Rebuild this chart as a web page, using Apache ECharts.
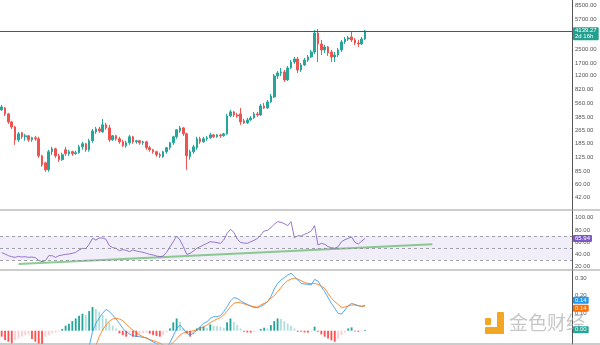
<!DOCTYPE html>
<html>
<head>
<meta charset="utf-8">
<script src="https://cdn.jsdelivr.net/npm/echarts@6/dist/echarts.min.js"></script>
<style>
  html, body { margin: 0; padding: 0; background: #ffffff; }
  #chart { width: 600px; height: 345px; }
</style>
</head>
<body>
<div id="chart"></div>
<script>
// Weekly candles: [open, close, low, high]
const candles = [
  [467,507,454,536],[493,418,395,507],[418,335,317,430],[335,292,276,345],[292,204,178,300],
  [204,241,193,254],[248,222,210,254],[222,228,199,241],[228,204,193,234],[204,216,193,222],
  [216,210,199,228],[210,131,124,222],[131,102,96.8,135],[108,89.1,84.3,111],[89.1,147,84.3,155],
  [147,159,135,168],[159,131,124,164],[131,118,111,139],[118,135,114,143],[155,139,131,168],
  [139,147,131,155],[147,139,131,151],[139,143,135,151],[143,168,139,178],[168,183,155,193],
  [183,155,147,188],[155,199,147,210],[199,261,188,276],[254,276,241,292],[276,261,248,292],
  [254,309,248,364],[309,284,269,326],[284,204,193,309],[204,228,199,234],[228,210,199,234],
  [210,193,183,222],[193,173,168,204],[173,188,164,199],[188,222,178,234],[222,193,183,228],
  [193,199,183,204],[199,188,178,204],[188,193,178,199],[193,164,155,199],[164,155,147,173],
  [155,147,139,159],[147,135,128,151],[135,131,124,143],[128,147,124,151],[147,164,139,168],
  [164,188,155,193],[188,222,178,228],[222,269,210,276],[261,284,248,300],[284,241,228,292],
  [241,131,89.1,248],[128,147,118,155],[147,168,139,178],[164,210,155,222],[210,193,183,222],
  [193,210,188,222],[210,216,199,228],[216,234,210,248],[234,222,216,241],[222,234,216,241],
  [234,228,216,241],[228,241,222,248],[241,395,234,418],[395,442,385,467],[442,406,385,454],
  [406,395,374,430],[418,335,309,493],[345,326,317,364],[326,354,317,374],[354,374,345,395],
  [374,418,364,442],[418,406,385,442],[406,521,395,551],[521,493,480,566],[493,582,480,615],
  [582,687,566,726],[668,1194,650,1262],[1194,1297,1099,1371],[1297,1334,1194,1490],[1334,1069,1012,1410],
  [1069,1490,1040,1574],[1490,1758,1449,1858],[1758,1910,1664,2019],[1910,1410,1297,2019],[1410,1618,1334,1710],
  [1618,1858,1574,1964],[1858,2019,1758,2134],[2019,2318,1964,2450],[2318,3919,2193,4258],[3919,2892,1758,4377],
  [2892,2450,2134,3230],[2450,2662,2255,2813],[2662,2255,2075,2736],[2318,2019,1758,2450],[2019,2134,1758,2318],
  [2134,2450,2019,2589],[2450,3056,2318,3230],[3056,3320,2892,3509],[3320,3413,3142,3607],[3509,3230,3056,4142],
  [3230,2973,2813,3413],[2973,2892,2662,3230],[2892,3320,2813,3509],[3320,4139.27,3230,4258]
];

// RSI(14)
const rsi = [
  42.5,40.2,37.5,35.8,34.7,36.4,35.3,35.8,34.7,35.3,
  34.2,29.8,27.6,29.3,37.5,37.5,34.7,37.5,38.6,39.7,
  40.2,41.4,43.0,46.9,49.6,49.0,56.2,66.0,63.3,66.6,
  66.6,64.4,53.9,50.7,49.6,45.7,47.4,46.3,44.1,46.9,
  45.2,44.1,43.0,41.4,39.7,38.6,37.0,35.8,37.0,43.0,
  51.8,60.5,69.9,63.3,52.3,39.7,41.4,45.2,49.6,52.3,
  55.1,57.8,60.5,59.9,58.9,57.8,63.3,74.3,80.9,75.9,
  64.9,59.4,58.3,57.8,60.5,62.7,66.0,71.5,78.1,79.2,
  83.6,89.1,93.5,92.4,90.2,86.9,93.5,67.1,70.4,69.9,
  72.6,74.8,78.1,86.9,55.1,57.8,56.2,52.3,50.7,49.6,
  52.3,60.5,63.8,66.0,68.2,59.4,56.7,61.6,65.94
];

// MACD line, signal line and histogram
const macdLine = [
  null,null,null,null,null,null,null,null,null,null,
  null,null,null,null,null,null,null,null,null,null,
  null,null,null,null,null,-0.10,-0.09,-0.006,0.042,0.074,
  0.099,0.122,0.109,0.090,0.067,0.042,0.013,-0.006,-0.019,-0.029,
  -0.032,-0.034,-0.038,-0.040,-0.053,-0.063,-0.074,-0.086,-0.093,-0.091,
  -0.069,-0.029,0.013,0.032,0.010,-0.015,-0.025,-0.015,0.004,0.023,
  0.042,0.051,0.070,0.080,0.080,0.086,0.109,0.137,0.170,0.189,
  0.185,0.171,0.160,0.150,0.141,0.133,0.131,0.139,0.150,0.166,
  0.194,0.238,0.270,0.290,0.303,0.318,0.328,0.309,0.290,0.270,
  0.267,0.265,0.261,0.293,0.284,0.251,0.223,0.190,0.156,0.128,
  0.099,0.095,0.118,0.143,0.156,0.150,0.143,0.139,0.145
];
const signalLine = [
  null,null,null,null,null,null,null,null,null,null,
  null,null,null,null,null,null,null,null,null,null,
  null,null,null,null,null,null,null,-0.10,-0.085,-0.034,
  0.004,0.032,0.055,0.067,0.070,0.067,0.057,0.038,0.019,0.004,
  -0.011,-0.025,-0.034,-0.044,-0.050,-0.057,-0.063,-0.072,-0.082,-0.086,
  -0.082,-0.067,-0.048,-0.025,-0.013,-0.010,-0.006,0.000,0.004,0.013,
  0.023,0.032,0.046,0.057,0.067,0.074,0.090,0.112,0.137,0.156,
  0.162,0.160,0.154,0.147,0.141,0.137,0.135,0.147,0.156,0.166,
  0.185,0.200,0.223,0.246,0.270,0.286,0.295,0.299,0.295,0.286,
  0.276,0.270,0.270,0.270,0.265,0.255,0.242,0.213,0.185,0.166,
  0.150,0.133,0.135,0.141,0.147,0.147,0.143,0.139,0.141
];
const histogram = [
  -0.034,-0.053,-0.063,-0.072,-0.053,-0.044,-0.034,-0.025,-0.021,-0.048,
  -0.063,-0.074,-0.082,-0.034,-0.025,-0.015,-0.011,-0.006,0.010,0.029,
  0.040,0.055,0.070,0.086,0.097,0.090,0.112,0.135,0.124,0.109,
  0.090,0.070,0.048,0.029,0.013,-0.015,-0.025,-0.034,-0.015,-0.034,
  -0.036,-0.019,-0.013,-0.011,-0.017,-0.025,-0.030,-0.034,-0.025,-0.010,
  0.013,0.048,0.070,0.051,0.013,-0.015,-0.034,-0.021,0.013,0.021,
  0.023,0.017,0.036,0.029,0.025,0.021,0.017,0.048,0.070,0.051,
  0.032,0.013,-0.006,-0.010,-0.011,-0.006,-0.004,0.010,0.017,0.013,
  0.032,0.055,0.070,0.067,0.055,0.042,0.029,0.013,-0.006,-0.006,
  -0.010,-0.011,-0.006,0.023,-0.006,-0.021,-0.034,-0.044,-0.055,-0.063,
  -0.048,-0.025,-0.011,0.013,0.019,-0.004,-0.006,-0.004,0.004
];

// Axis ticks and levels
const priceTicks = [42, 60, 85, 125, 185, 265, 385, 560, 820, 1200, 1700, 2500, 5700, 8500];
const rsiTicks = [20, 40, 60, 80, 100];
const macdTicks = [0.1, 0.2, 0.3];
const rsiLevels = [70, 50, 30];
const rsiTrend = [[5, 23.7], [128, 56.3]];
const barCountdown = '2d 16h';
const slotCount = 170;

const slots = Array.from({ length: slotCount }, (_, i) => String(i));
const logCandles = candles.map(c => c.map(v => Math.log10(v)));
const lastCandle = candles[candles.length - 1];
const lastPrice = lastCandle[1];

const UP = '#26a69a', DOWN = '#ef5350';
const FONT = 'Liberation Sans';
const CLEAR = 'rgba(0,0,0,0)';
const labelBase = { fontSize: 6, color: '#555', fontFamily: FONT, margin: 3 };

function histColor(i) {
  const v = histogram[i];
  const prev = i > 0 ? histogram[i - 1] : v;
  if (v >= 0) return v >= prev ? '#26a69a' : '#b2dfdb';
  return v <= prev ? '#ff5252' : '#ffcdd2';
}

// value badge at the right end of a horizontal marker
function tag(bg, offsetY) {
  return {
    show: true, position: 'end', distance: 1,
    backgroundColor: bg, color: '#fff', fontSize: 6, fontFamily: FONT,
    lineHeight: 6, padding: [1, 2, 0, 2], offset: [0, offsetY || 0],
    borderRadius: 1, opacity: 1
  };
}

const chart = echarts.init(document.getElementById('chart'), null, { renderer: 'canvas' });

const xAxisBase = { type: 'category', data: slots, show: false, boundaryGap: true };

chart.setOption({
  animation: false,
  backgroundColor: '#ffffff',
  grid: [
    { left: 0, right: 28, top: 0, height: 210 },
    { left: 0, right: 28, top: 210, height: 60 },
    { left: 0, right: 28, top: 270, height: 74 }
  ],
  xAxis: [
    Object.assign({ gridIndex: 0 }, xAxisBase),
    Object.assign({ gridIndex: 1 }, xAxisBase),
    Object.assign({ gridIndex: 2 }, xAxisBase)
  ],
  yAxis: [
    {
      gridIndex: 0, type: 'value', position: 'right',
      min: Math.log10(29.3), max: Math.log10(9760),
      axisLine: { show: true, lineStyle: { color: '#555', width: 1 } },
      axisTick: { show: false },
      splitLine: { show: false },
      axisLabel: Object.assign({}, labelBase, {
        customValues: priceTicks.map(v => Math.log10(v)),
        formatter: v => Math.pow(10, v).toFixed(2)
      })
    },
    {
      gridIndex: 1, type: 'value', position: 'right',
      min: 13.9, max: 112.7,
      axisLine: { show: true, lineStyle: { color: '#555', width: 1 } },
      axisTick: { show: false },
      splitLine: { show: false },
      axisLabel: Object.assign({}, labelBase, {
        customValues: rsiTicks,
        formatter: v => v.toFixed(2)
      })
    },
    {
      gridIndex: 2, type: 'value', position: 'right',
      min: -0.076, max: 0.3469,
      axisLine: { show: true, lineStyle: { color: '#555', width: 1 } },
      axisTick: { show: false },
      splitLine: { show: false },
      axisLabel: Object.assign({}, labelBase, {
        customValues: macdTicks,
        formatter: v => v.toFixed(2)
      })
    }
  ],
  graphic: [
    { type: 'line', shape: { x1: 0, y1: 210, x2: 600, y2: 210 }, style: { stroke: '#9a9a9a', lineWidth: 1 }, z: 5 },
    { type: 'line', shape: { x1: 0, y1: 270, x2: 600, y2: 270 }, style: { stroke: '#9a9a9a', lineWidth: 1 }, z: 5 },
    { type: 'line', shape: { x1: 0, y1: 344, x2: 600, y2: 344 }, style: { stroke: '#9a9a9a', lineWidth: 1 }, z: 5 },
    // watermark
    { type: 'rect', shape: { x: 485, y: 318, width: 6, height: 7, r: 1 }, style: { fill: '#f2a623' }, z: 1 },
    { type: 'rect', shape: { x: 497, y: 312, width: 7, height: 22, r: 1 }, style: { fill: '#f2a623' }, z: 1 },
    { type: 'rect', shape: { x: 485, y: 327, width: 19, height: 7, r: 1 }, style: { fill: '#f2a623' }, z: 1 },
    { type: 'text', x: 509, y: 313, style: { text: '金色财经', fontSize: 19, fontFamily: 'Noto Sans CJK SC', fill: 'rgba(175,175,175,0.7)' }, z: 1 }
  ],
  series: [
    {
      type: 'candlestick', xAxisIndex: 0, yAxisIndex: 0,
      data: logCandles,
      barWidth: '62%',
      itemStyle: { color: UP, color0: DOWN, borderColor: UP, borderColor0: DOWN, borderWidth: 1 },
      markLine: {
        silent: true, symbol: ['none', 'none'],
        lineStyle: { color: '#555', width: 1, type: 'solid' },
        data: [{ yAxis: Math.log10(lastPrice) }],
        label: Object.assign(tag('#22a08f', 3), {
          formatter: () => lastPrice.toFixed(2) + '\n' + barCountdown
        })
      }
    },
    {
      type: 'line', xAxisIndex: 1, yAxisIndex: 1,
      data: rsi, symbol: 'none',
      lineStyle: { color: '#7e57c2', width: 0.8 },
      markArea: {
        silent: true,
        itemStyle: { color: 'rgba(126,87,194,0.1)' },
        data: [[{ yAxis: rsiLevels[2] }, { yAxis: rsiLevels[0] }]]
      },
      markLine: {
        silent: true, symbol: ['none', 'none'],
        lineStyle: { color: '#8a8d96', width: 0.8, type: [3, 3] },
        label: { show: false },
        data: rsiLevels.map(v => ({ yAxis: v })).concat([{
          yAxis: rsi[rsi.length - 1],
          lineStyle: { color: CLEAR },
          label: Object.assign(tag('#7e57c2', 0), { formatter: p => p.value.toFixed(2) })
        }])
      },
      z: 3
    },
    {
      type: 'line', xAxisIndex: 1, yAxisIndex: 1,
      data: rsiTrend, symbol: 'none',
      lineStyle: { color: 'rgba(102,187,106,0.75)', width: 2 },
      z: 2
    },
    {
      type: 'bar', xAxisIndex: 2, yAxisIndex: 2,
      data: histogram, barWidth: '55%',
      itemStyle: { color: p => histColor(p.dataIndex) },
      markLine: {
        silent: true, symbol: ['none', 'none'],
        data: [{ yAxis: histogram[histogram.length - 1] }],
        lineStyle: { color: CLEAR },
        label: Object.assign(tag('#26a69a', -1), { formatter: p => Math.abs(p.value).toFixed(2) })
      },
      z: 2
    },
    {
      type: 'line', xAxisIndex: 2, yAxisIndex: 2,
      data: macdLine, symbol: 'none',
      lineStyle: { color: '#2196f3', width: 0.8 },
      markLine: {
        silent: true, symbol: ['none', 'none'],
        data: [{ yAxis: macdLine[macdLine.length - 1] }],
        lineStyle: { color: CLEAR },
        label: Object.assign(tag('#2196f3', -6), { formatter: p => p.value.toFixed(2) })
      },
      z: 3
    },
    {
      type: 'line', xAxisIndex: 2, yAxisIndex: 2,
      data: signalLine, symbol: 'none',
      lineStyle: { color: '#ff6d00', width: 0.8 },
      markLine: {
        silent: true, symbol: ['none', 'none'],
        data: [{ yAxis: signalLine[signalLine.length - 1] }],
        lineStyle: { color: CLEAR },
        label: Object.assign(tag('#ff6d00', 2), { formatter: p => p.value.toFixed(2) })
      },
      z: 3
    }
  ]
});
</script>
</body>
</html>
